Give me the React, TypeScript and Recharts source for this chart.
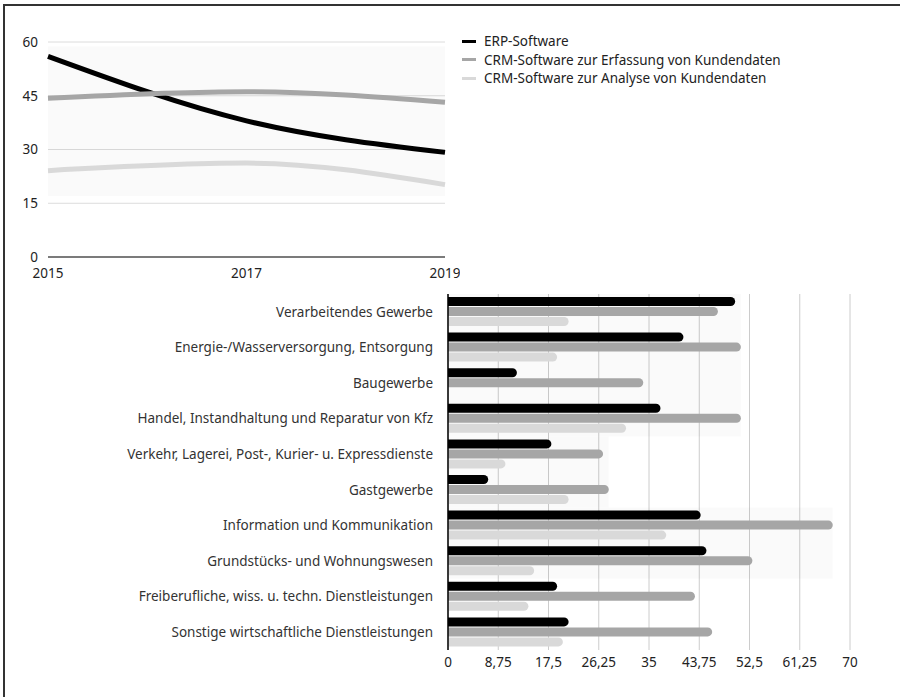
import {
  LineChart,
  Line,
  BarChart,
  Bar,
  XAxis,
  YAxis,
  CartesianGrid,
  ReferenceArea,
} from "recharts";

const years = ["2015", "2017", "2019"];
const erpTrend = [56, 38, 29.2];
const crmErfassungTrend = [44.3, 46.1, 43.2];
const crmAnalyseTrend = [24.1, 26.2, 20.2];

const seriesNames = [
  "ERP-Software",
  "CRM-Software zur Erfassung von Kundendaten",
  "CRM-Software zur Analyse von Kundendaten",
];
const seriesColors = ["#000000", "#a6a6a6", "#d9d9d9"];

const branchen = [
  "Verarbeitendes Gewerbe",
  "Energie-/Wasserversorgung, Entsorgung",
  "Baugewerbe",
  "Handel, Instandhaltung und Reparatur von Kfz",
  "Verkehr, Lagerei, Post-, Kurier- u. Expressdienste",
  "Gastgewerbe",
  "Information und Kommunikation",
  "Grundstücks- und Wohnungswesen",
  "Freiberufliche, wiss. u. techn. Dienstleistungen",
  "Sonstige wirtschaftliche Dienstleistungen",
];
const erpBranche = [50, 41, 12, 37, 18, 7, 44, 45, 19, 21];
const crmErfassungBranche = [47, 51, 34, 51, 27, 28, 67, 53, 43, 46];
const crmAnalyseBranche = [21, 19, 0, 31, 10, 21, 38, 15, 14, 20];

const lineTicks = [0, 15, 30, 45, 60];
const barTicks = [0, 8.75, 17.5, 26.25, 35, 43.75, 52.5, 61.25, 70];

const trendData = years.map((year, i) => ({
  year,
  erp: erpTrend[i],
  crmErf: crmErfassungTrend[i],
  crmAna: crmAnalyseTrend[i],
}));

const brancheData = branchen.map((name, i) => ({
  name,
  erp: erpBranche[i],
  crmErf: crmErfassungBranche[i],
  crmAna: crmAnalyseBranche[i],
}));

const keys = ["erp", "crmErf", "crmAna"];

// faint boxes behind groups of categories, as in the original
const bgBoxes: [number, number, number][] = [
  [0, 3, 51],
  [4, 5, 28],
  [6, 7, 67],
  [8, 9, 46],
];

const FS = 13.5;
const tickStyle = { fill: "#222", fontSize: FS };
const fmt = (v: number) => String(v).replace(".", ",");

export default function App() {
  return (
    <div
      style={{
        position: "absolute",
        left: 0,
        top: 0,
        width: 900,
        height: 697,
        background: "#fff",
        fontFamily: "'Noto Sans', sans-serif",
        overflow: "hidden",
      }}
    >
      <div
        style={{
          position: "absolute",
          left: 3,
          top: 4,
          width: 897,
          height: 693,
          borderLeft: "2px solid #333",
          borderTop: "2px solid #333",
          boxSizing: "border-box",
        }}
      />

      <div style={{ position: "absolute", left: 0, top: 0 }}>
        <LineChart
          width={460}
          height={290}
          data={trendData}
          margin={{ top: 42, right: 15, left: 0, bottom: 0 }}
        >
          <ReferenceArea y1={17} y2={58.8} fill="#000" fillOpacity={0.018} stroke="none" />
          <CartesianGrid vertical={false} stroke="#dcdcdc" />
          <XAxis
            dataKey="year"
            height={33}
            tick={tickStyle}
            tickLine={false}
            tickSize={0}
            tickMargin={11}
            axisLine={{ stroke: "#555", strokeWidth: 1.5 }}
          />
          <YAxis
            width={48}
            domain={[0, 60]}
            ticks={lineTicks}
            tick={tickStyle}
            tickLine={false}
            tickSize={0}
            tickMargin={10}
            axisLine={false}
          />
          {keys.map((k, i) => (
            <Line
              key={k}
              dataKey={k}
              name={seriesNames[i]}
              type="monotone"
              stroke={seriesColors[i]}
              strokeWidth={5}
              dot={false}
              isAnimationActive={false}
            />
          ))}
        </LineChart>
      </div>

      <div style={{ position: "absolute", left: 462, top: 32, fontSize: FS, color: "#222" }}>
        {seriesNames.map((n, i) => (
          <div key={n} style={{ display: "flex", alignItems: "center", height: 18.5 }}>
            <span
              style={{
                display: "inline-block",
                width: 14,
                height: 3,
                background: seriesColors[i],
                marginRight: 8,
              }}
            />
            {n}
          </div>
        ))}
      </div>

      <div style={{ position: "absolute", left: 0, top: 280 }}>
        <BarChart
          width={900}
          height={417}
          layout="vertical"
          data={brancheData}
          margin={{ top: 14, right: 50, left: 0, bottom: 0 }}
          barSize={9}
          barGap={1}
        >
          {bgBoxes.map(([a, b, x], i) => (
            <ReferenceArea
              key={i}
              y1={branchen[a]}
              y2={branchen[b]}
              x1={0}
              x2={x}
              fill="#000"
              fillOpacity={0.018}
              stroke="none"
            />
          ))}
          <CartesianGrid horizontal={false} stroke="#cccccc" />
          <XAxis
            type="number"
            domain={[0, 70]}
            ticks={barTicks}
            tickFormatter={fmt}
            height={47}
            tick={tickStyle}
            tickLine={false}
            tickSize={0}
            tickMargin={7}
            axisLine={false}
          />
          <YAxis
            type="category"
            dataKey="name"
            width={448}
            tick={{ fill: "#333", fontSize: FS }}
            tickLine={false}
            tickSize={0}
            tickMargin={15}
            axisLine={{ stroke: "#000", strokeWidth: 1.5 }}
            interval={0}
          />
          {keys.map((k, i) => (
            <Bar
              key={k}
              dataKey={k}
              name={seriesNames[i]}
              fill={seriesColors[i]}
              radius={[0, 5, 5, 0]}
              isAnimationActive={false}
            />
          ))}
        </BarChart>
      </div>
    </div>
  );
}
